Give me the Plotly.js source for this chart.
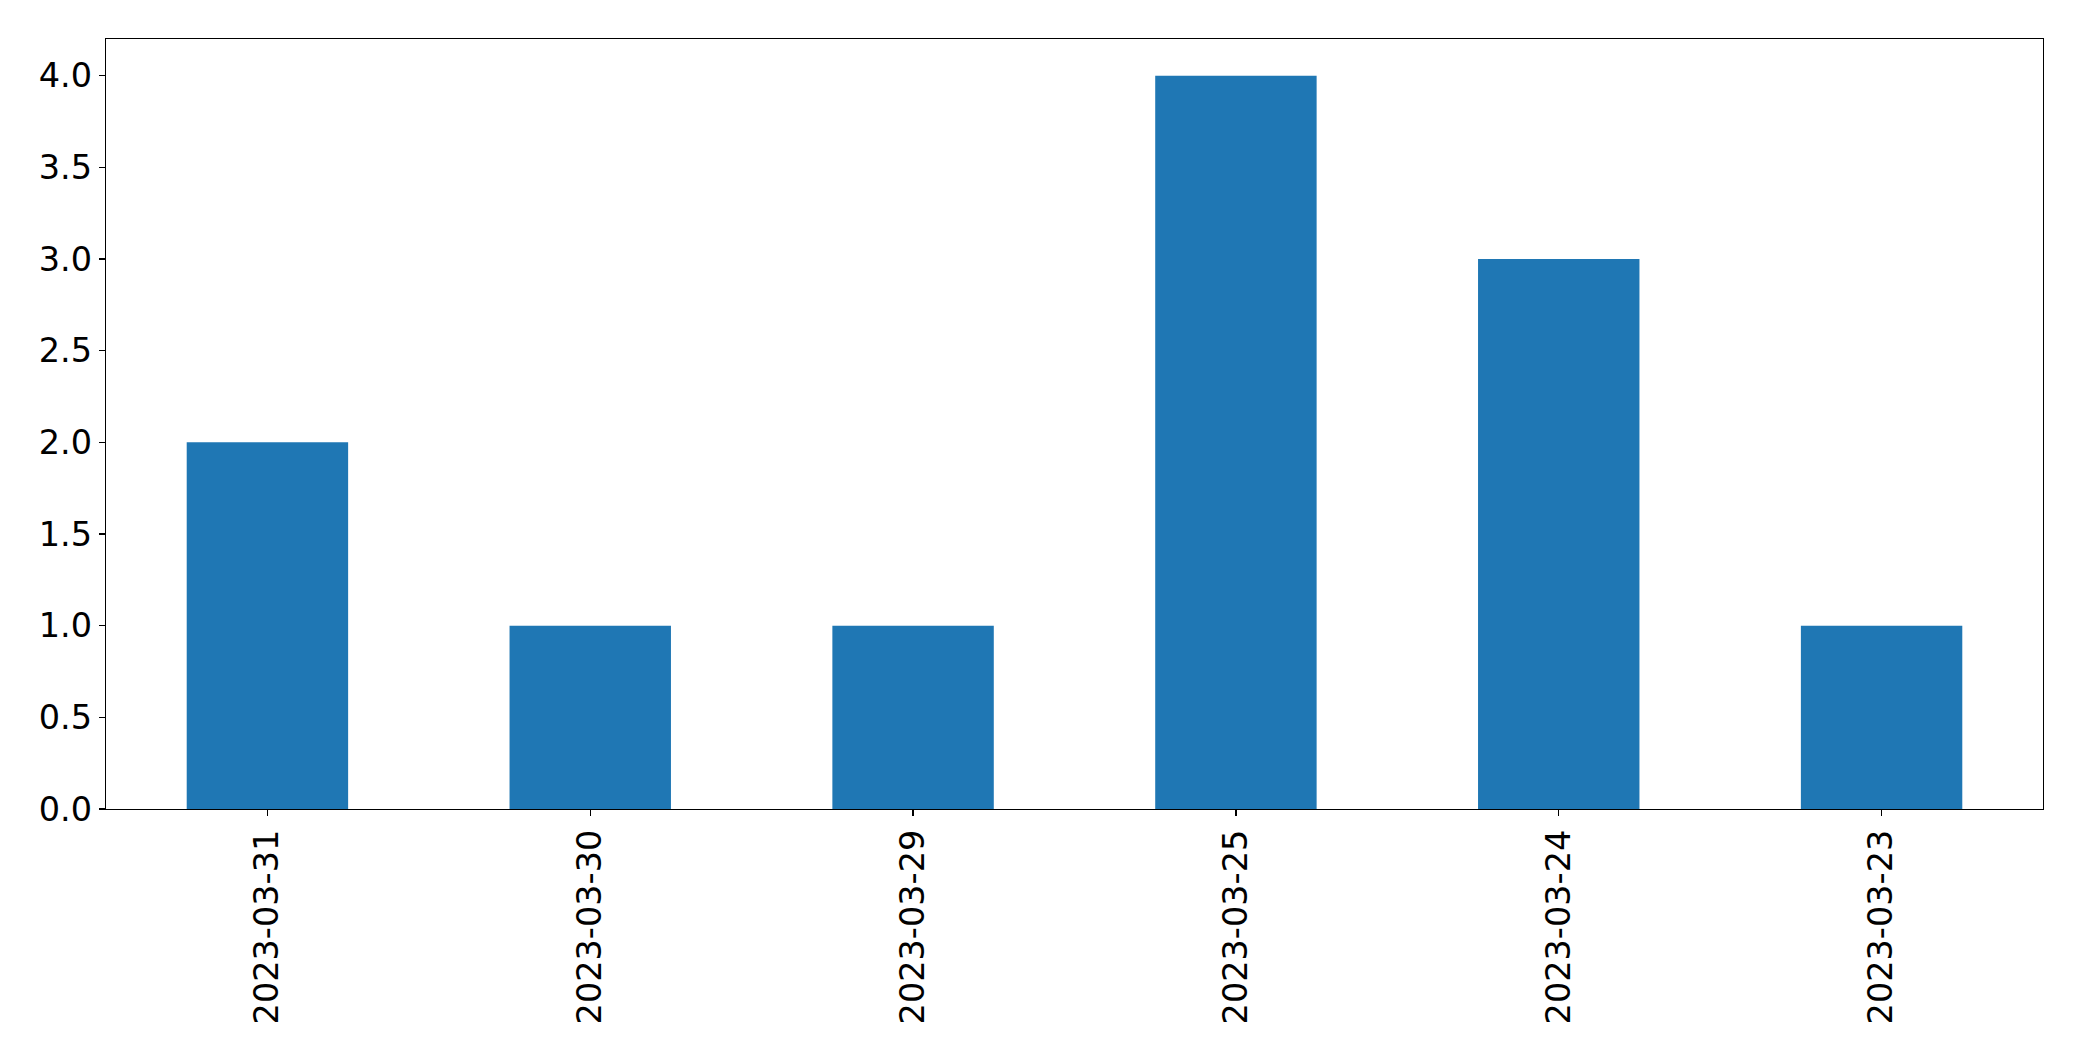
<!DOCTYPE html>
<html>
<head>
<meta charset="utf-8">
<script src="https://cdn.plot.ly/plotly-3.0.1.min.js"></script>
<style>html,body{margin:0;padding:0;background:#fff;}#chart{width:2082px;height:1061px;}</style>
</head>
<body>
<div id="chart"></div>
<script>
const categories = ["2023-03-31", "2023-03-30", "2023-03-29", "2023-03-25", "2023-03-24", "2023-03-23"];
const counts = [2, 1, 1, 4, 3, 1];
const yTicks = [0, 0.5, 1, 1.5, 2, 2.5, 3, 3.5, 4];
const yTickText = ["0.0", "0.5", "1.0", "1.5", "2.0", "2.5", "3.0", "3.5", "4.0"];

const data = [{
  type: 'bar',
  x: categories,
  y: counts,
  width: 0.5,
  marker: {color: '#1f77b4', line: {width: 0}},
  hoverinfo: 'x+y'
}];

const axisCommon = {
  showline: true,
  mirror: true,
  linecolor: '#000',
  linewidth: 1.3,
  ticks: 'outside',
  ticklen: 6,
  tickwidth: 1.3,
  tickcolor: '#000',
  showgrid: false,
  zeroline: false,
  tickfont: {family: 'DejaVu Sans', size: 33.5, color: '#000'}
};

const layout = {
  width: 2082,
  height: 1061,
  margin: {l: 105.5, r: 38.7, t: 39.3, b: 252, pad: 0},
  paper_bgcolor: '#fff',
  plot_bgcolor: '#fff',
  showlegend: false,
  bargap: 0.5,
  xaxis: Object.assign({}, axisCommon, {
    type: 'category',
    range: [-0.5, 5.5],
    tickangle: -90,
    categoryorder: 'array',
    categoryarray: categories
  }),
  yaxis: Object.assign({}, axisCommon, {
    range: [0, 4.2],
    tickvals: yTicks,
    ticktext: yTickText
  })
};

Plotly.newPlot('chart', data, layout, {displayModeBar: false, staticPlot: true});
</script>
</body>
</html>
